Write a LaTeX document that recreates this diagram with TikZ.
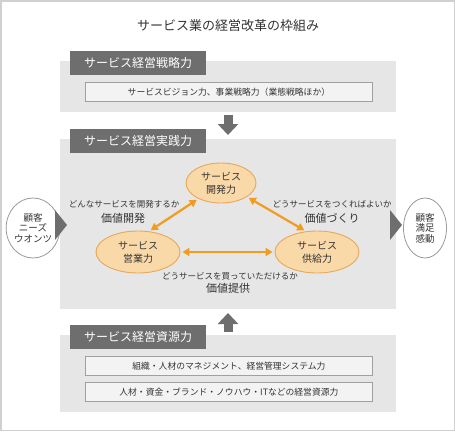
\documentclass[tikz,border=0pt]{standalone}
\usepackage{fontspec}
\setmainfont{Noto Sans CJK JP}
\usetikzlibrary{shapes.geometric,arrows.meta}
\definecolor{panel}{HTML}{E6E6E6}
\definecolor{hdr}{HTML}{6E6E6E}
\definecolor{boxfill}{HTML}{F3F3F3}
\definecolor{boxline}{HTML}{A0A0A0}
\definecolor{ofill}{HTML}{FAD9A9}
\definecolor{oline}{HTML}{E8A75A}
\definecolor{oarr}{HTML}{F29B1E}
\definecolor{txt}{HTML}{333333}
\definecolor{framecol}{HTML}{D0D0D0}
\definecolor{circline}{HTML}{9A9A9A}
\begin{document}
\begin{tikzpicture}[x=1pt,y=-1pt,
  panelbox/.style={fill=panel, anchor=north west, inner sep=0pt, outer sep=0pt},
  header/.style={fill=hdr, text=white, anchor=north west, minimum width=136pt,
    minimum height=24pt, inner sep=0pt, font=\fontsize{12}{14}\selectfont},
  itembox/.style={fill=boxfill, draw=boxline, line width=0.8pt, anchor=north west,
    minimum width=287pt, minimum height=19pt, inner sep=0pt, text=txt,
    font=\fontsize{8.8}{10}\selectfont},
  oell/.style={ellipse, fill=ofill, draw=oline, line width=0.9pt, inner sep=0pt,
    align=center, text=txt, font=\fontsize{10}{13}\selectfont},
  oarrow/.style={draw=oarr, line width=2.2pt,
    {Triangle[length=7pt,width=8pt]}-{Triangle[length=7pt,width=8pt]},
    shorten <=2pt, shorten >=2pt},
  garrow/.style={draw=hdr, line width=9pt, -{Triangle[length=11pt,width=20pt]}},
  cust/.style={ellipse, fill=white, draw=circline, line width=0.8pt, inner sep=0pt,
    align=center, text=txt, font=\fontsize{9.5}{10.5}\selectfont},
  small/.style={text=txt, inner sep=0pt, font=\fontsize{8.5}{10}\selectfont},
  big/.style={text=txt, inner sep=0pt, font=\fontsize{11}{13}\selectfont}
]
\useasboundingbox (0,0) rectangle (455,431);
\draw[framecol, line width=1.5pt] (0.75,0.75) rectangle (454.25,430.25);

\node[text=txt, font=\fontsize{13}{15}\selectfont] (title) at (228,26) {サービス業の経営改革の枠組み};

% panel 1
\node[panelbox, minimum width=336pt, minimum height=51pt] (p1) at (60,61) {};
\node[header] (h1) at (70,51) {サービス経営戦略力};
\node[itembox] (b1) at (85,82) {サービスビジョン力、事業戦略力（業態戦略ほか）};

% panel 2
\node[panelbox, minimum width=336pt, minimum height=170pt] (p2) at (60,139) {};
\node[header] (h2) at (70,129) {サービス経営実践力};

% panel 3
\node[panelbox, minimum width=336pt, minimum height=77pt] (p3) at (60,335) {};
\node[header] (h3) at (70,325) {サービス経営資源力};
\node[itembox] (b2) at (85,356) {組織・人材のマネジメント、経営管理システム力};
\node[itembox] (b3) at (85,382) {人材・資金・ブランド・ノウハウ・ITなどの経営資源力};

% gray arrows between panels
\draw[garrow] ([yshift=-3pt]p1.south -| title) -- ([yshift=4pt]p2.north -| title);
\draw[garrow] ([yshift=3pt]p3.north -| title) -- ([yshift=-4pt]p2.south -| title);

% ellipses
\node[oell, minimum width=70pt, minimum height=40pt] (dev) at (221,183) {サービス\\開発力};
\node[oell, minimum width=84pt, minimum height=42pt] (sales) at (138,252) {サービス\\営業力};
\node[oell, minimum width=84pt, minimum height=42pt] (supply) at (317,252) {サービス\\供給力};

\draw[oarrow] (sales.62) -- (dev.215);
\draw[oarrow] (dev.-28) -- (supply.118);
\draw[oarrow] (sales.east) -- (supply.west);

% labels
\node[small] (l1a) at (124,204) {どんなサービスを開発するか};
\node[big] (l1b) at (123,218) {価値開発};
\node[small] (l2a) at (332,204) {どうサービスをつくればよいか};
\node[big] (l2b) at (332,218) {価値づくり};
\node[small] (l3a) at (230,276) {どうサービスを買っていただけるか};
\node[big] (l3b) at (228,288) {価値提供};

% customers
\node[cust, minimum width=40pt, minimum height=60pt] (needs) at (33,228) {顧客\\ニーズ\\ウオンツ};
\node[cust, minimum width=43pt, minimum height=60pt] (sat) at (425,228) {顧客\\満足\\感動};
\fill[hdr] (55,210) -- (67,225) -- (55,240) -- cycle;
\fill[hdr] (390,210) -- (402,225) -- (390,240) -- cycle;
\end{tikzpicture}
\end{document}
